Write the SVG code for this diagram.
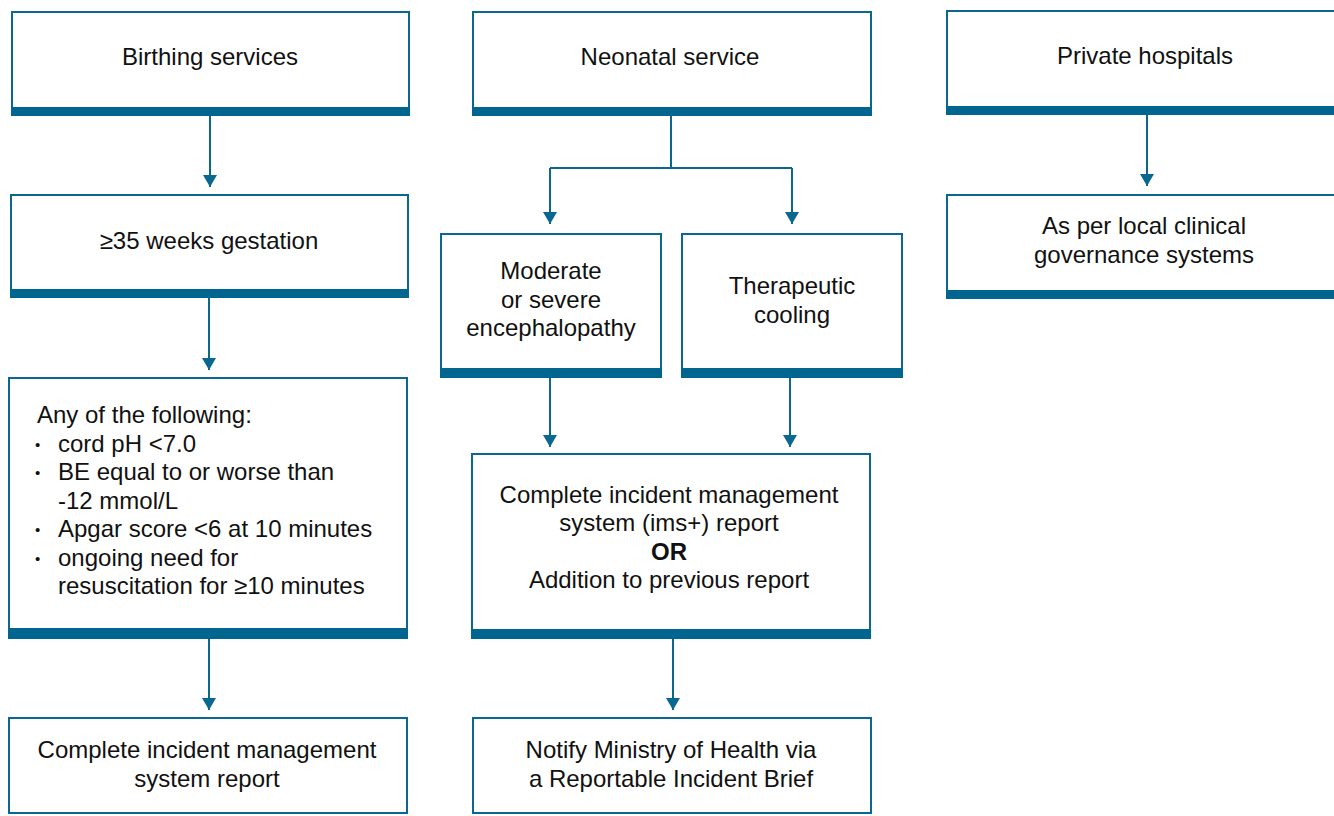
<svg xmlns="http://www.w3.org/2000/svg" width="1334" height="816" viewBox="0 0 1334 816">
<defs>
<style>
.box{fill:#ffffff;stroke:#0A6890;stroke-width:2}
.bar{fill:#006690}
.t{font-family:"Liberation Sans",Arial,sans-serif;font-size:24px;fill:#111111;text-anchor:middle}
.tl{font-family:"Liberation Sans",Arial,sans-serif;font-size:24px;fill:#111111}
.bu{font-family:"Liberation Sans",Arial,sans-serif;font-size:15px;fill:#111111}
.b{font-weight:bold}
.con{fill:none;stroke:#0A6890;stroke-width:2}
</style>
<marker id="ah" viewBox="0 -7 12 14" refX="12" refY="0" markerWidth="12" markerHeight="14" markerUnits="userSpaceOnUse" orient="auto">
<path d="M0,-7 L12,0 L0,7 z" fill="#0A6890"/>
</marker>
</defs>
<rect width="1334" height="816" fill="#ffffff"/>
<g id="connectors">
<path class="con" d="M210,116 V187" marker-end="url(#ah)"/>
<path class="con" d="M209,298 V370" marker-end="url(#ah)"/>
<path class="con" d="M209,639 V710" marker-end="url(#ah)"/>
<path class="con" d="M671,116 V168"/>
<path class="con" d="M550,168 H792"/>
<path class="con" d="M550,168 V224" marker-end="url(#ah)"/>
<path class="con" d="M792,168 V224" marker-end="url(#ah)"/>
<path class="con" d="M550,378 V447" marker-end="url(#ah)"/>
<path class="con" d="M790,378 V447" marker-end="url(#ah)"/>
<path class="con" d="M673,639 V710" marker-end="url(#ah)"/>
<path class="con" d="M1147,115 V186" marker-end="url(#ah)"/>
</g>
<g id="birthing">
<rect class="box" x="12" y="12" width="397" height="103"/>
<rect class="bar" x="11" y="107" width="399" height="9"/>
<text class="t" x="210" y="65">Birthing services</text>
</g>
<g id="gestation">
<rect class="box" x="11" y="195" width="397" height="102"/>
<rect class="bar" x="10" y="289" width="399" height="9"/>
<text class="t" x="209" y="249">≥35 weeks gestation</text>
</g>
<g id="criteria">
<rect class="box" x="9" y="378" width="398" height="260"/>
<rect class="bar" x="8" y="628" width="400" height="11"/>
<text class="tl" x="37" y="423">Any of the following:</text>
<text class="bu" x="35" y="449.5">•</text>
<text class="tl" x="58" y="452">cord pH &lt;7.0</text>
<text class="bu" x="35" y="478">•</text>
<text class="tl" x="58" y="480">BE equal to or worse than</text>
<text class="tl" x="58" y="508.5">-12 mmol/L</text>
<text class="bu" x="35" y="535">•</text>
<text class="tl" x="58" y="537">Apgar score &lt;6 at 10 minutes</text>
<text class="bu" x="35" y="563.5">•</text>
<text class="tl" x="58" y="565.5">ongoing need for</text>
<text class="tl" x="58" y="594">resuscitation for ≥10 minutes</text>
</g>
<g id="ims-left">
<rect class="box" x="9" y="718" width="398" height="95"/>
<text class="t" x="207" y="758">Complete incident management</text>
<text class="t" x="207" y="787">system report</text>
</g>
<g id="neonatal">
<rect class="box" x="473" y="12" width="398" height="103"/>
<rect class="bar" x="472" y="107" width="400" height="9"/>
<text class="t" x="670" y="65">Neonatal service</text>
</g>
<g id="encephalopathy">
<rect class="box" x="441" y="234" width="220" height="143"/>
<rect class="bar" x="440" y="368" width="222" height="10"/>
<text class="t" x="551" y="279">Moderate</text>
<text class="t" x="551" y="307.5">or severe</text>
<text class="t" x="551" y="336">encephalopathy</text>
</g>
<g id="cooling">
<rect class="box" x="682" y="234" width="220" height="143"/>
<rect class="bar" x="681" y="368" width="222" height="10"/>
<text class="t" x="792" y="294">Therapeutic</text>
<text class="t" x="792" y="322.5">cooling</text>
</g>
<g id="ims-center">
<rect class="box" x="472" y="454" width="398" height="184"/>
<rect class="bar" x="471" y="629" width="400" height="10"/>
<text class="t" x="669" y="503">Complete incident management</text>
<text class="t" x="669" y="531">system (ims+) report</text>
<text class="t b" x="669" y="559.5">OR</text>
<text class="t" x="669" y="588">Addition to previous report</text>
</g>
<g id="notify">
<rect class="box" x="473" y="718" width="398" height="95"/>
<text class="t" x="671" y="758">Notify Ministry of Health via</text>
<text class="t" x="671" y="787">a Reportable Incident Brief</text>
</g>
<g id="private">
<rect class="box" x="947" y="11" width="400" height="103"/>
<rect class="bar" x="946" y="106" width="400" height="9"/>
<text class="t" x="1145" y="64">Private hospitals</text>
</g>
<g id="local">
<rect class="box" x="947" y="195" width="400" height="103"/>
<rect class="bar" x="946" y="290" width="400" height="9"/>
<text class="t" x="1144" y="234">As per local clinical</text>
<text class="t" x="1144" y="263">governance systems</text>
</g>
</svg>
